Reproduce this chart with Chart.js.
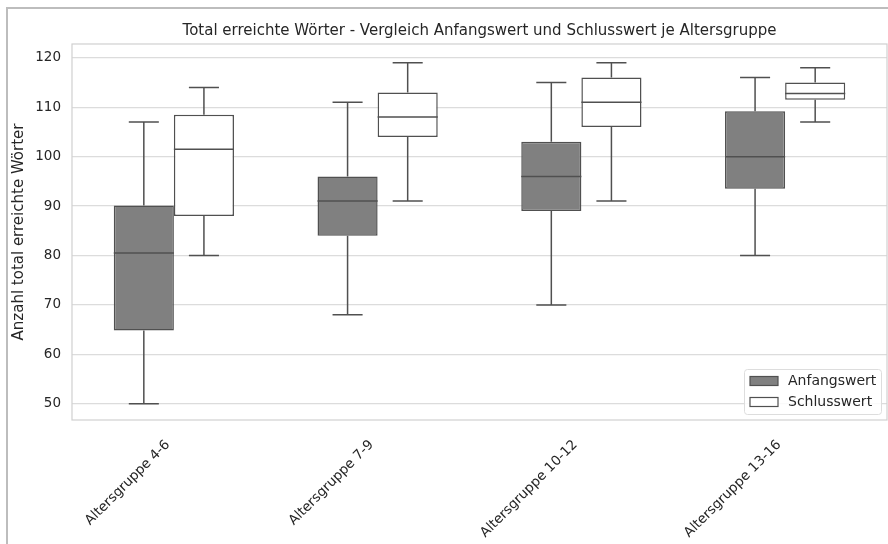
<!DOCTYPE html>
<html>
<head>
<meta charset="utf-8">
<script src="https://cdn.jsdelivr.net/npm/chart.js@4.4.1/dist/chart.umd.min.js"></script>
<style>
  html, body { margin: 0; padding: 0; background: #fff; }
  #wrap { width: 888px; height: 544px; }
</style>
</head>
<body>
<div id="wrap"><canvas id="boxChart" width="888" height="544"></canvas></div>
<script>
const categories = ['Altersgruppe 4-6', 'Altersgruppe 7-9', 'Altersgruppe 10-12', 'Altersgruppe 13-16'];

// Anfangswert
const startMin = [50, 68, 70, 80];
const startQ1 = [64.8, 84, 89, 93.5];
const startMedian = [80.5, 91, 96, 100];
const startQ3 = [90.1, 96, 103, 109.2];
const startMax = [107, 111, 115, 116];

// Schlusswert
const endMin = [80, 91, 91, 107];
const endQ1 = [88, 104, 106, 111.5];
const endMedian = [101.5, 108, 111, 112.8];
const endQ3 = [108.5, 113, 116, 115];
const endMax = [114, 119, 119, 118];

const yTicks = [50, 60, 70, 80, 90, 100, 110, 120];

const chartTitle = 'Total erreichte Wörter - Vergleich Anfangswert und Schlusswert je Altersgruppe';
const lineColor = '#505050';
const textColor = '#262626';
const font = "'DejaVu Sans', sans-serif";

const boxExtras = {
  id: 'boxExtras',
  beforeDraw(chart) {
    const ctx = chart.ctx;
    ctx.save();
    ctx.strokeStyle = '#bdbdbd';
    ctx.lineWidth = 2;
    ctx.strokeRect(7, 8, 900, 600);
    ctx.restore();
  },
  afterDatasetsDraw(chart) {
    const ctx = chart.ctx;
    const y = chart.scales.y;
    ctx.save();
    ctx.strokeStyle = lineColor;
    ctx.lineWidth = 1.5;
    chart.data.datasets.forEach((ds, di) => {
      const meta = chart.getDatasetMeta(di);
      meta.data.forEach((bar, i) => {
        const x = bar.x;
        const half = bar.width / 2;
        const cap = bar.width / 4;
        const yMin = y.getPixelForValue(ds.lows[i]);
        const yMax = y.getPixelForValue(ds.highs[i]);
        const yQ1 = y.getPixelForValue(ds.data[i][0]);
        const yQ3 = y.getPixelForValue(ds.data[i][1]);
        const yMed = y.getPixelForValue(ds.medians[i]);
        ctx.beginPath();
        ctx.moveTo(x, yQ3); ctx.lineTo(x, yMax);
        ctx.moveTo(x - cap, yMax); ctx.lineTo(x + cap, yMax);
        ctx.moveTo(x, yQ1); ctx.lineTo(x, yMin);
        ctx.moveTo(x - cap, yMin); ctx.lineTo(x + cap, yMin);
        ctx.moveTo(x - half, yMed); ctx.lineTo(x + half, yMed);
        ctx.stroke();
      });
    });
    ctx.restore();
  },
  afterDraw(chart) {
    const ctx = chart.ctx;
    const a = chart.chartArea;
    ctx.save();
    // plot frame
    ctx.strokeStyle = '#d0d0d0';
    ctx.lineWidth = 1.2;
    ctx.strokeRect(a.left, a.top, a.right - a.left, a.bottom - a.top);

    // title centred over the plot area
    ctx.fillStyle = textColor;
    ctx.font = '15px ' + font;
    ctx.textAlign = 'center';
    ctx.textBaseline = 'middle';
    ctx.fillText(chartTitle, (a.left + a.right) / 2, a.top - 13);

    // legend in lower right corner
    const lx = a.right - 143, ly = a.bottom - 51, lw = 137, lh = 45;
    ctx.fillStyle = 'rgba(255,255,255,0.85)';
    ctx.strokeStyle = '#dddddd';
    ctx.lineWidth = 1;
    ctx.beginPath();
    ctx.roundRect(lx + 0.5, ly + 0.5, lw, lh, 3);
    ctx.fill();
    ctx.stroke();
    ctx.font = '14px ' + font;
    ctx.textAlign = 'left';
    chart.data.datasets.forEach((ds, di) => {
      const rowY = ly + 12 + di * 21;
      ctx.fillStyle = ds.backgroundColor;
      ctx.fillRect(lx + 6, rowY - 4.5, 28, 9);
      ctx.strokeStyle = lineColor;
      ctx.lineWidth = 1.2;
      ctx.strokeRect(lx + 6, rowY - 4.5, 28, 9);
      ctx.fillStyle = textColor;
      ctx.fillText(ds.label, lx + 44, rowY + 0.5);
    });
    ctx.restore();
  }
};

new Chart(document.getElementById('boxChart').getContext('2d'), {
  type: 'bar',
  data: {
    labels: categories,
    datasets: [{
      label: 'Anfangswert',
      data: categories.map((c, i) => [startQ1[i], startQ3[i]]),
      lows: startMin,
      medians: startMedian,
      highs: startMax,
      backgroundColor: '#808080',
      borderColor: lineColor,
      borderWidth: 1.5,
      borderSkipped: false
    }, {
      label: 'Schlusswert',
      data: categories.map((c, i) => [endQ1[i], endQ3[i]]),
      lows: endMin,
      medians: endMedian,
      highs: endMax,
      backgroundColor: '#ffffff',
      borderColor: lineColor,
      borderWidth: 1.5,
      borderSkipped: false
    }]
  },
  options: {
    responsive: false,
    animation: false,
    devicePixelRatio: 1,
    categoryPercentage: 0.59,
    barPercentage: 1.0,
    layout: { padding: { left: 10, right: 1, top: 44, bottom: 0 } },
    plugins: {
      legend: { display: false },
      tooltip: { enabled: false },
      title: { display: false }
    },
    scales: {
      x: {
        grid: { display: false },
        border: { display: false },
        ticks: {
          color: textColor,
          font: { family: font, size: 13.5 },
          maxRotation: 45,
          minRotation: 45,
          padding: 9,
          labelOffset: -6
        },
        afterFit(scale) { scale.height = 124; }
      },
      y: {
        min: 46.7,
        max: 122.8,
        afterBuildTicks(scale) { scale.ticks = yTicks.map(v => ({ value: v })); },
        grid: { color: '#dcdcdc', lineWidth: 1.2, drawTicks: false },
        border: { display: false },
        ticks: {
          color: textColor,
          font: { family: font, size: 13.5 },
          padding: 11,
          includeBounds: false
        },
        title: {
          display: true,
          text: 'Anzahl total erreichte Wörter',
          color: textColor,
          font: { family: font, size: 15 },
          padding: { top: 0, bottom: 4 }
        },
        afterFit(scale) { scale.width = 62; }
      }
    }
  },
  plugins: [boxExtras]
});
</script>
</body>
</html>
